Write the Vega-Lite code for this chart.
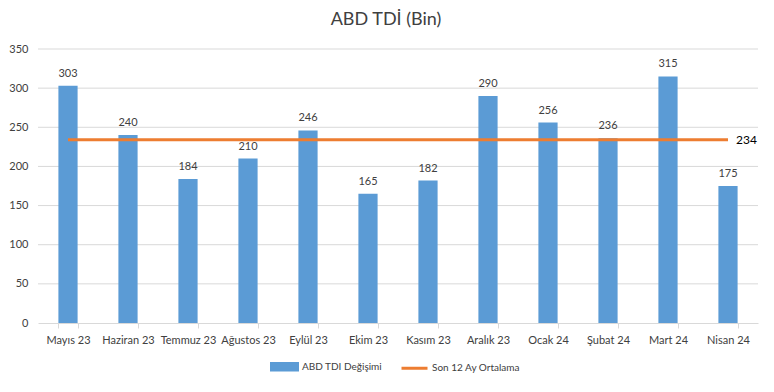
{
  "$schema": "https://vega.github.io/schema/vega-lite/v6.json",
  "autosize": {"type": "none"},
  "width": 720,
  "height": 274,
  "padding": {"left": 38, "top": 49, "right": 16, "bottom": 69},
  "background": "white",
  "title": {"text": "ABD TDİ (Bin)", "font": "Lato", "fontSize": 18, "fontWeight": "normal", "color": "#404040", "anchor": "middle", "offset": 14, "dx": -12},
  "config": {
    "font": "Lato",
    "view": {"stroke": null},
    "axis": {"labelFont": "Lato", "labelColor": "#404040", "labelFontSize": 11}
  },
  "datasets": {
    "tdi": [
      {"ay": "Mayıs 23", "deger": 303, "ort": 234},
      {"ay": "Haziran 23", "deger": 240, "ort": 234},
      {"ay": "Temmuz 23", "deger": 184, "ort": 234},
      {"ay": "Ağustos 23", "deger": 210, "ort": 234},
      {"ay": "Eylül 23", "deger": 246, "ort": 234},
      {"ay": "Ekim 23", "deger": 165, "ort": 234},
      {"ay": "Kasım 23", "deger": 182, "ort": 234},
      {"ay": "Aralık 23", "deger": 290, "ort": 234},
      {"ay": "Ocak 24", "deger": 256, "ort": 234},
      {"ay": "Şubat 24", "deger": 236, "ort": 234},
      {"ay": "Mart 24", "deger": 315, "ort": 234},
      {"ay": "Nisan 24", "deger": 175, "ort": 234}
    ],
    "izgara": [
      {"g": 50}, {"g": 100}, {"g": 150}, {"g": 200}, {"g": 250}, {"g": 300}, {"g": 350}
    ]
  },
  "layer": [
    {
      "data": {"name": "izgara"},
      "mark": {"type": "rule", "color": "#D9D9D9", "strokeWidth": 1},
      "encoding": {
        "y": {"field": "g", "type": "quantitative", "title": null,
          "scale": {"domain": [0, 350], "nice": false, "zero": true},
          "axis": {"values": [0, 50, 100, 150, 200, 250, 300, 350], "grid": false, "labelOverlap": false, "domain": false, "ticks": false, "labelPadding": 10}}
      }
    },
    {
      "data": {"name": "tdi"},
      "mark": {"type": "bar", "color": "#5B9BD5"},
      "encoding": {
        "x": {
          "field": "ay", "type": "nominal", "sort": null, "title": null,
          "scale": {"paddingInner": 0.68, "paddingOuter": 0.34},
          "axis": {"labelAngle": 0, "tickBand": "extent", "domainColor": "#D9D9D9", "tickColor": "#D9D9D9", "tickSize": 5, "labelPadding": 6, "grid": false, "labelOverlap": false}
        },
        "y": {
          "field": "deger", "type": "quantitative", "title": null,
          "axis": {"values": [0, 50, 100, 150, 200, 250, 300, 350], "grid": false, "labelOverlap": false, "domain": false, "ticks": false, "labelPadding": 10}
        },
        "color": {
          "datum": "ABD TDI Değişimi",
          "type": "nominal",
          "scale": {"domain": ["ABD TDI Değişimi", "Son 12 Ay Ortalama"], "range": ["#5B9BD5", "#ED7D31"]},
          "legend": {
            "title": null,
            "orient": "none",
            "legendX": 232,
            "legendY": 303,
            "direction": "horizontal",
            "labelFont": "Lato",
            "labelFontSize": 10,
            "labelColor": "#404040",
            "labelOffset": 3,
            "symbolSize": 676,
            "columnPadding": 12,
            "symbolType": "M-1,-0.25H1V0.25H-1Z",
            "encode": {
              "symbols": {
                "update": {
                  "fill": {"signal": "datum.value === 'ABD TDI Değişimi' ? '#5B9BD5' : 'transparent'"},
                  "stroke": {"signal": "datum.value === 'ABD TDI Değişimi' ? 'transparent' : '#ED7D31'"},
                  "strokeWidth": {"value": 3},
                  "shape": {"signal": "datum.value === 'ABD TDI Değişimi' ? 'M-1,-0.25H1V0.25H-1Z' : 'M-1,0H1'"}
                }
              }
            }
          }
        }
      }
    },
    {
      "data": {"name": "tdi"},
      "mark": {"type": "text", "baseline": "bottom", "dy": -7, "fontSize": 11, "color": "#404040"},
      "encoding": {
        "x": {"field": "ay", "type": "nominal", "sort": null},
        "y": {"field": "deger", "type": "quantitative", "title": null,
          "axis": {"values": [0, 50, 100, 150, 200, 250, 300, 350], "grid": false, "labelOverlap": false, "domain": false, "ticks": false, "labelPadding": 10}},
        "text": {"field": "deger", "type": "quantitative"}
      }
    },
    {
      "data": {"name": "tdi"},
      "mark": {"type": "line", "strokeWidth": 3},
      "encoding": {
        "x": {"field": "ay", "type": "nominal", "sort": null},
        "y": {"field": "ort", "type": "quantitative", "title": null,
          "axis": {"values": [0, 50, 100, 150, 200, 250, 300, 350], "grid": false, "labelOverlap": false, "domain": false, "ticks": false, "labelPadding": 10}},
        "color": {"datum": "Son 12 Ay Ortalama", "type": "nominal"}
      }
    },
    {
      "data": {"name": "tdi"},
      "transform": [{"filter": "datum.ay === 'Nisan 24'"}],
      "mark": {"type": "text", "align": "left", "baseline": "middle", "dx": 8, "fontSize": 12, "color": "#000000"},
      "encoding": {
        "x": {"field": "ay", "type": "nominal", "sort": null},
        "y": {"field": "ort", "type": "quantitative", "title": null,
          "axis": {"values": [0, 50, 100, 150, 200, 250, 300, 350], "grid": false, "labelOverlap": false, "domain": false, "ticks": false, "labelPadding": 10}},
        "text": {"field": "ort", "type": "quantitative"}
      }
    }
  ]
}
